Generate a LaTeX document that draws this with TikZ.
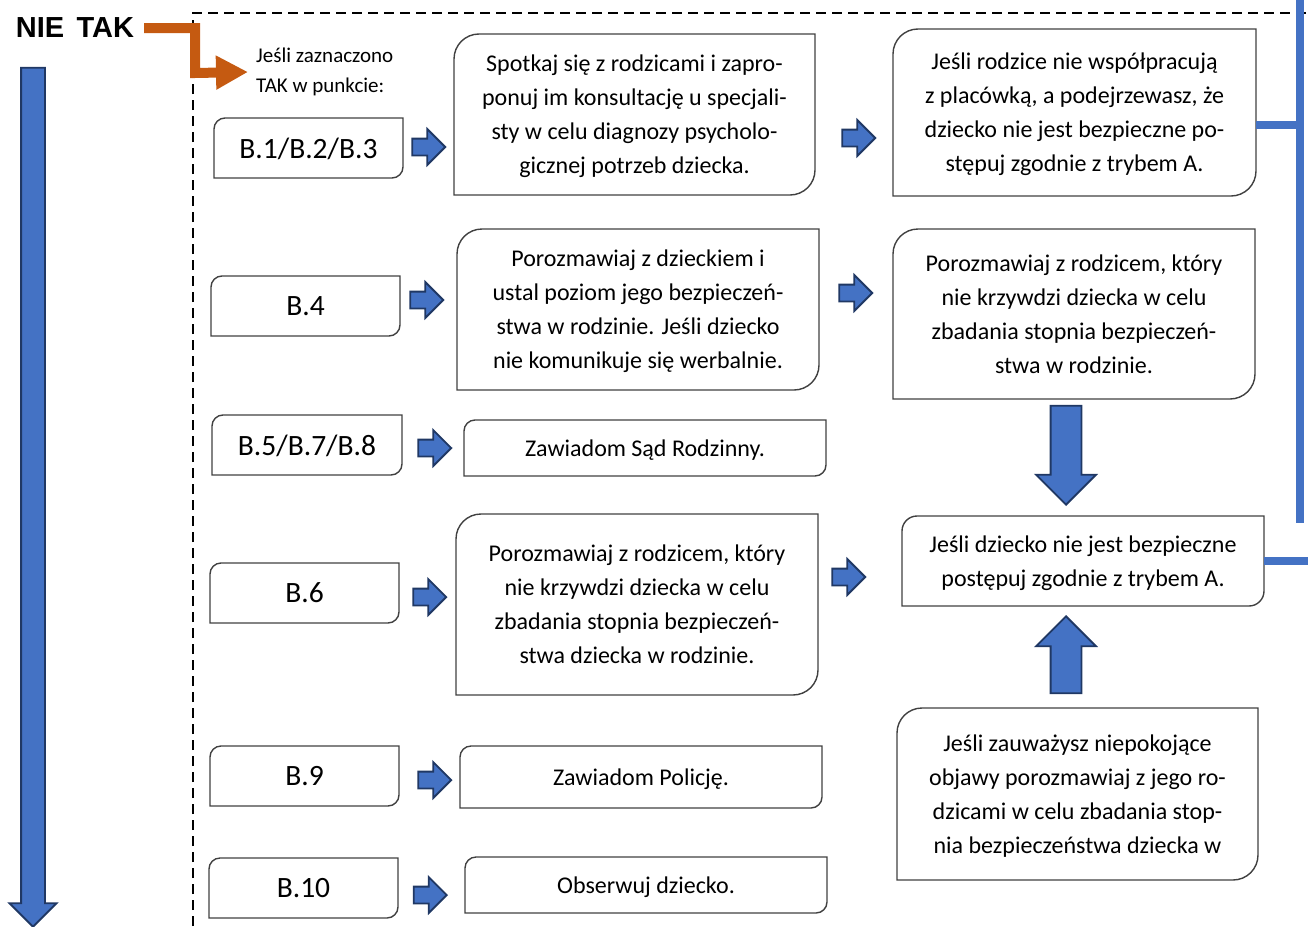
\documentclass[tikz,border=0pt]{standalone}
\usepackage{fontspec}
\setmainfont{Carlito}
\newfontfamily\headfont{Liberation Sans}
\usetikzlibrary{positioning,calc,arrows.meta,shapes.arrows}

\definecolor{arrowblue}{HTML}{4472C4}
\definecolor{arrowedge}{HTML}{203864}
\definecolor{takorange}{HTML}{C55A11}
\definecolor{boxedge}{HTML}{404040}

% box outline with two round corners (top left, bottom right)
\newcommand{\diagframe}[2]{%
  \draw[boxedge,line width=1.4pt] ([yshift=-#2]#1.north west)
    arc[start angle=180,end angle=90,radius=#2] -- (#1.north east)
    -- ([yshift=#2]#1.south east)
    arc[start angle=0,end angle=-90,radius=#2] -- (#1.south west) -- cycle;}

\begin{document}
\begin{tikzpicture}[x=1pt,y=-1pt,
  box/.style={shape=rectangle,inner sep=0pt,outer sep=0pt,align=center,text depth=0pt,
    font=\fontsize{24}{34}\selectfont},
  code/.style={box,font=\fontsize{29.5}{34}\selectfont,minimum width=189,minimum height=60},
  head/.style={inner sep=0pt,font=\headfont\bfseries\fontsize{29}{30}\selectfont},
  blockarrow/.style={single arrow,draw=arrowedge,fill=arrowblue,line width=1.8pt,
    inner sep=7.5pt,single arrow head extend=9.5pt,single arrow head indent=0pt,
    minimum height=33pt,minimum width=0pt,anchor=tip},
  bigarrow/.style={blockarrow,inner sep=14.5pt,single arrow head extend=14.5pt},
  link/.style={arrowblue,line width=8pt},
]
\useasboundingbox (0,0) rectangle (1308,926);

\node[head] (nie) at (40,28) {NIE};
\node[head] (tak) [right=12pt of nie] {TAK};
\node[anchor=west,inner sep=0pt,align=left,font=\fontsize{21}{30}\selectfont] (jesli) at (256,72)
  {Jeśli zaznaczono\\TAK w punkcie:};

% codes
\node[code] (b1) at (308.5,148) {B.1/B.2/B.3};
\node[code] (b4) at (305.5,306) {B.4};
\node[code,minimum width=190] (b5) at (307,445) {B.5/B.7/B.8};
\node[code] (b6) at (304.5,593) {B.6};
\node[code] (b9) at (304.5,776) {B.9};
\node[code] (b10) at (303.5,888) {B.10};

% middle column
\node[box,minimum width=361,minimum height=161] (s1) at (634.5,114.5)
  {Spotkaj się z rodzicami i zapro-\\ponuj im konsultację u specjali-\\sty w celu diagnozy psycholo-\\gicznej potrzeb dziecka.};
\node[box,minimum width=362,minimum height=161] (m2) at (638,309.5)
  {Porozmawiaj z dzieckiem i\\ustal poziom jego bezpieczeń-\\stwa w rodzinie. Jeśli dziecko\\nie komunikuje się werbalnie.};
\node[box,minimum width=362,minimum height=56] (m3) at (645,448) {Zawiadom Sąd Rodzinny.};
\node[box,minimum width=362,minimum height=181] (m4) at (637,604.5)
  {Porozmawiaj z rodzicem, który\\nie krzywdzi dziecka w celu\\zbadania stopnia bezpieczeń-\\stwa dziecka w rodzinie.};
\node[box,minimum width=362,minimum height=62] (m5) at (641,777) {Zawiadom Policję.};
\node[box,minimum width=362,minimum height=56] (m6) at (646,885) {Obserwuj dziecko.};

% right column
\node[box,minimum width=363,minimum height=167] (r1) at (1074.5,112.5)
  {Jeśli rodzice nie współpracują\\z placówką, a podejrzewasz, że\\dziecko nie jest bezpieczne po-\\stępuj zgodnie z trybem A.};
\node[box,minimum width=362,minimum height=170] (r2) at (1074,314)
  {Porozmawiaj z rodzicem, który\\nie krzywdzi dziecka w celu\\zbadania stopnia bezpieczeń-\\stwa w rodzinie.};
\node[box,minimum width=362,minimum height=90] (r3) at (1083,561)
  {Jeśli dziecko nie jest bezpieczne\\postępuj zgodnie z trybem A.};
\node[box,minimum width=361,minimum height=172] (r4) at (1077.5,794)
  {Jeśli zauważysz niepokojące\\objawy porozmawiaj z jego ro-\\dzicami w celu zbadania stop-\\nia bezpieczeństwa dziecka w};

\foreach \n/\r in {b1/11pt,b4/11pt,b5/11pt,b6/11pt,b9/11pt,b10/11pt,
  s1/25pt,m2/25pt,m3/11pt,m4/25pt,m5/11pt,m6/11pt,r1/25pt,r2/25pt,r3/15pt,r4/25pt}
  \diagframe{\n}{\r};

% block arrows
\foreach \p in {(446.5,147),(444.5,300),(452.5,448),(447.5,597),(452.5,780),(448,895),
  (876.5,138),(873.5,293),(866.5,577)}
  \node[blockarrow] at \p {};
\node[bigarrow,rotate=-90,minimum height=99pt] (down) at (1066,506) {};
\node[bigarrow,rotate=90,minimum height=77pt] (up) at (1066,615) {};
\node[blockarrow,rotate=-90,inner sep=11pt,single arrow head extend=11.5pt,
  minimum height=859pt] (nie arrow) at (33,928) {};

% frame
\draw[line width=2pt,dash pattern=on 10pt off 6pt] (193,926) -- (193,13) -- (1308,13);

% connectors
\draw[takorange,line width=10pt,-{Triangle[length=32pt,width=32pt]}]
  ([xshift=10pt]tak.east) -| (195,73) -- ([xshift=-8pt]jesli.west);
\coordinate (rtop) at (1300,0);
\coordinate (rbot) at (1300,523);
\coordinate (redge) at (1308,0);
\draw[link] (rtop) -- (rbot);
\draw[link] ([yshift=-12pt]r1.east) -- ([yshift=-12pt]r1.east -| rtop);
\draw[link] (r3.east) -- (r3.east -| redge);
\end{tikzpicture}
\end{document}
